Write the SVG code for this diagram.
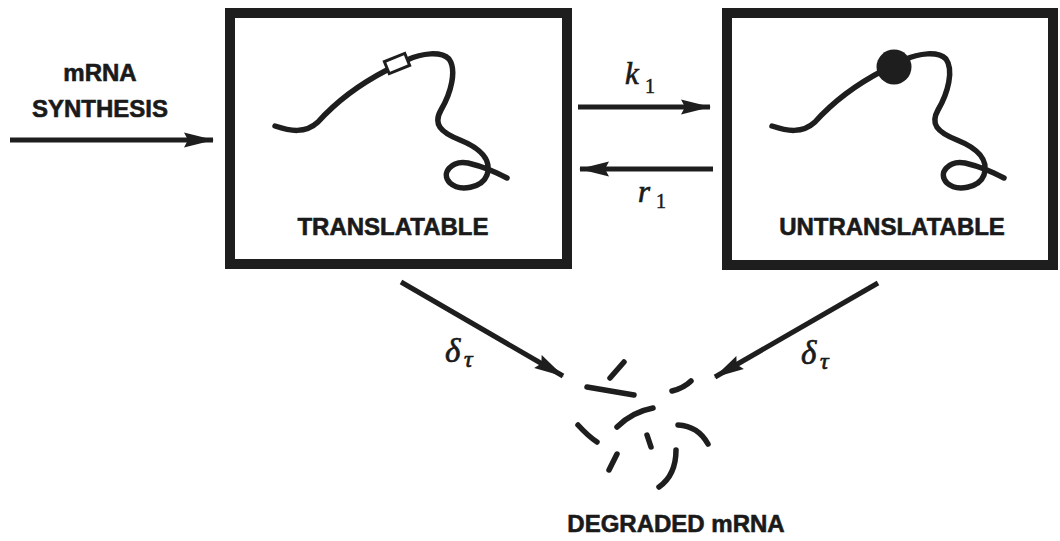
<svg xmlns="http://www.w3.org/2000/svg" width="1060" height="541" viewBox="0 0 1060 541">
  <style>
    .box { fill: #ffffff; stroke: #1e1e1e; stroke-width: 10; }
    .label { font-family: "Liberation Sans", Arial, sans-serif; font-weight: bold; font-size: 24px; fill: #1a1a1a; stroke: #1a1a1a; stroke-width: 0.6; }
    .math { font-family: "Liberation Serif", "Times New Roman", serif; font-style: italic; fill: #1a1a1a; stroke: #1a1a1a; stroke-width: 0.7; }
    .sub { font-family: "Liberation Serif", "Times New Roman", serif; fill: #1a1a1a; stroke: #1a1a1a; stroke-width: 0.5; }
    .strand { fill: none; stroke: #1e1e1e; stroke-width: 5.5; stroke-linecap: round; stroke-linejoin: round; }
    .shaft { stroke: #1e1e1e; stroke-width: 5; fill: none; }
    .frag { fill: none; stroke: #1e1e1e; stroke-width: 5.5; stroke-linecap: round; }
  </style>
  <defs>
    <marker id="head" markerUnits="userSpaceOnUse" markerWidth="32" markerHeight="16" refX="29" refY="8" orient="auto">
      <path d="M0,0.5 L30,8 L0,15.5 L4,8 z" fill="#1e1e1e"/>
    </marker>
    <path id="mrna" class="strand" d="M275,126 C290,131 305,134 318,122 C335,103 360,84 387,70 L407,60 C422,53 441,51 449,59 C457,70 451,93 441,110 C433,124 440,132 460,140 C480,148 492,160 487,175 C482,188 460,192 450,183 C440,173 452,160 468,163 C485,167 495,172 507,178"/>
  </defs>
  <rect width="1060" height="541" fill="#ffffff"/>

  <!-- translatable state -->
  <g id="translatable">
    <rect class="box" x="230" y="13" width="337" height="251"/>
    <use href="#mrna"/>
    <rect x="386" y="57" width="22" height="13" transform="rotate(-22 397 63.5)" fill="#ffffff" stroke="#1e1e1e" stroke-width="3"/>
    <text class="label" x="393" y="235" text-anchor="middle">TRANSLATABLE</text>
  </g>

  <!-- untranslatable state -->
  <g id="untranslatable">
    <rect class="box" x="727" y="13" width="326" height="252"/>
    <use href="#mrna" transform="translate(497,0)"/>
    <circle cx="894" cy="67" r="17.5" fill="#1e1e1e"/>
    <text class="label" x="892" y="235" text-anchor="middle">UNTRANSLATABLE</text>
  </g>

  <!-- synthesis source label -->
  <g id="synthesis">
    <text class="label" x="100" y="81" text-anchor="middle">mRNA</text>
    <text class="label" x="100" y="117" text-anchor="middle">SYNTHESIS</text>
  </g>

  <!-- degraded fragments -->
  <g id="degraded">
    <path class="frag" d="M610,378 L624,362"/>
    <path class="frag" d="M587,387 L634,395"/>
    <path class="frag" d="M672,391 Q684,388 691,381"/>
    <path class="frag" d="M617,427 Q632,412 653,408"/>
    <path class="frag" d="M578,425 Q588,436 597,442"/>
    <path class="frag" d="M647,435 L651,447"/>
    <path class="frag" d="M678,425 Q698,426 708,444"/>
    <path class="frag" d="M617,454 L609,470"/>
    <path class="frag" d="M676,450 Q676,475 659,487"/>
    <text class="label" x="676" y="532" text-anchor="middle" font-size="22.5">DEGRADED mRNA</text>
  </g>

  <!-- transitions -->
  <g id="connectors">
    <line class="shaft" x1="10" y1="140" x2="213" y2="140" marker-end="url(#head)"/>
    <line class="shaft" x1="578" y1="107" x2="710" y2="107" marker-end="url(#head)"/>
    <line class="shaft" x1="713" y1="169" x2="580" y2="169" marker-end="url(#head)"/>
    <line class="shaft" x1="401" y1="282" x2="563" y2="376" stroke-width="6" marker-end="url(#head)"/>
    <line class="shaft" x1="878" y1="283" x2="715" y2="377" stroke-width="6" marker-end="url(#head)"/>
    <text class="math" x="625" y="84" font-size="31">k</text>
    <text class="sub" x="645" y="93" font-size="20">1</text>
    <text class="math" x="638" y="202" font-size="31">r</text>
    <text class="sub" x="656" y="208" font-size="20">1</text>
    <text class="math" x="445" y="362" font-size="33">δ</text>
    <text class="math" x="464" y="367" font-size="24">τ</text>
    <text class="math" x="801" y="364" font-size="33">δ</text>
    <text class="math" x="820" y="369" font-size="24">τ</text>
  </g>
</svg>
